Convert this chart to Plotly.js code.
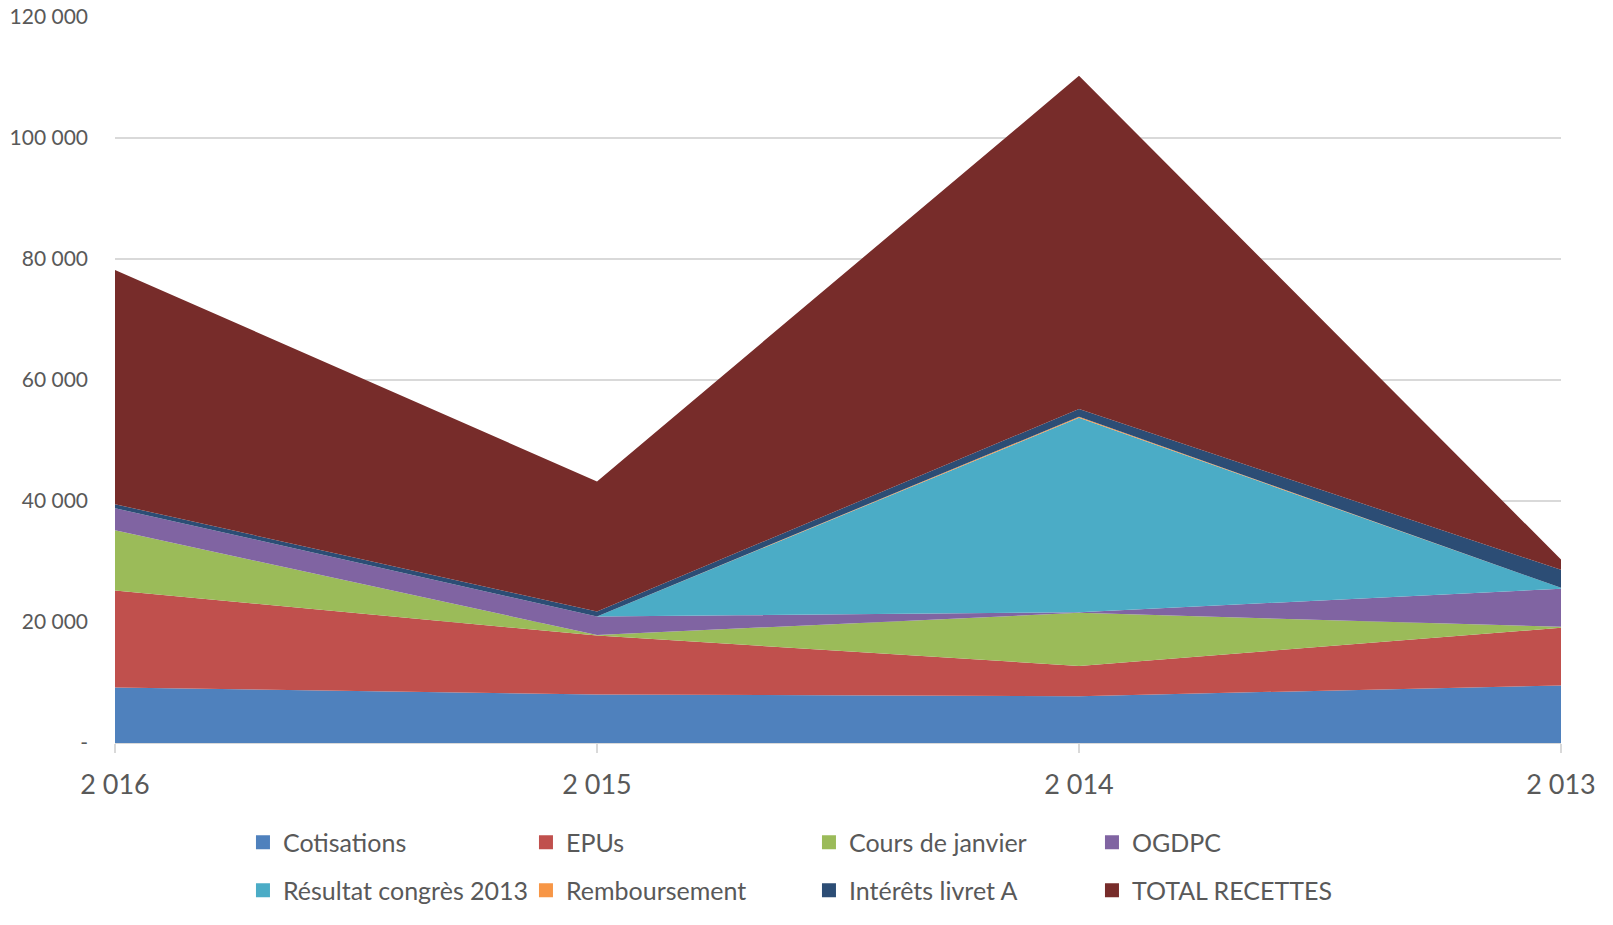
<!DOCTYPE html>
<html>
<head>
<meta charset="utf-8">
<script src="https://cdn.plot.ly/plotly-3.0.1.min.js"></script>
<style>
html,body{margin:0;padding:0;background:#fff;}
#chart{width:1613px;height:925px;}
</style>
</head>
<body>
<div id="chart"></div>
<script>
const categories = ["2 016", "2 015", "2 014", "2 013"];
const cotisations = [9190, 8020, 7740, 9520];
const epus = [16030, 9730, 5000, 9520];
const coursJanvier = [9940, 100, 8770, 160];
const ogdpc = [3660, 3070, 100, 6290];
const resultatCongres = [0, 0, 32150, 160];
const remboursement = [0, 0, 160, 0];
const interets = [650, 810, 1290, 2970];
const totalRecettes = [38710, 21500, 55060, 1710];

const seriesNames = ["Cotisations", "EPUs", "Cours de janvier", "OGDPC",
  "Résultat congrès 2013", "Remboursement", "Intérêts livret A", "TOTAL RECETTES"];
const seriesValues = [cotisations, epus, coursJanvier, ogdpc,
  resultatCongres, remboursement, interets, totalRecettes];
const seriesColors = ["#4F81BD", "#C0504D", "#9BBB59", "#8064A2",
  "#4BACC6", "#F79646", "#2C4D75", "#772C2A"];

const yTickVals = [0, 20000, 40000, 60000, 80000, 100000, 120000];
const yTickText = ["-", "20 000", "40 000", "60 000", "80 000", "100 000", "120 000"];

const traces = [];
seriesNames.forEach((name, i) => {
  traces.push({
    type: "scatter",
    mode: "lines",
    name: name,
    x: categories,
    y: seriesValues[i],
    stackgroup: "one",
    fillcolor: seriesColors[i],
    line: {width: 0, color: seriesColors[i]},
    showlegend: false,
    hoverinfo: "x+y+name"
  });
});
// legend entries (square swatches), two rows
seriesNames.forEach((name, i) => {
  traces.push({
    type: "scatter",
    mode: "markers",
    name: name,
    x: [null],
    y: [null],
    marker: {symbol: "square", size: 14, color: seriesColors[i]},
    showlegend: true,
    legend: i < 4 ? "legend" : "legend2",
    hoverinfo: "skip"
  });
});

const legendCommon = {
  orientation: "h",
  traceorder: "normal",
  xanchor: "left",
  yanchor: "middle",
  x: 0.0885,
  entrywidth: 238,
  entrywidthmode: "pixels",
  font: {family: "Lato, 'Open Sans', sans-serif", size: 25, color: "#595959"},
  bgcolor: "rgba(0,0,0,0)",
  itemclick: false,
  itemdoubleclick: false
};

const layout = {
  width: 1613,
  height: 925,
  margin: {l: 115, r: 52, t: 17, b: 164},
  paper_bgcolor: "#ffffff",
  plot_bgcolor: "#ffffff",
  font: {family: "Lato, 'Open Sans', sans-serif", color: "#595959"},
  showlegend: true,
  xaxis: {
    type: "category",
    range: [0, 3],
    showgrid: false,
    showline: true,
    linecolor: "#D9D9D9",
    linewidth: 1.3,
    ticks: "outside",
    ticklen: 9,
    tickcolor: "#D9D9D9",
    tickwidth: 1.3,
    tickfont: {family: "Lato, 'Open Sans', sans-serif", size: 27, color: "#595959"},
    ticklabelstandoff: 8,
    zeroline: false,
    fixedrange: true
  },
  yaxis: {
    range: [0, 120000],
    tickmode: "array",
    tickvals: yTickVals,
    ticktext: yTickText,
    showgrid: true,
    gridcolor: "#D9D9D9",
    gridwidth: 1.3,
    zeroline: false,
    showline: false,
    ticks: "",
    tickfont: {family: "Lato, 'Open Sans', sans-serif", size: 21, color: "#595959"},
    ticklabelstandoff: 26,
    fixedrange: true
  },
  legend: Object.assign({}, legendCommon, {y: -0.137}),
  legend2: Object.assign({}, legendCommon, {y: -0.203})
};

Plotly.newPlot("chart", traces, layout, {displayModeBar: false, staticPlot: true});
</script>
</body>
</html>
